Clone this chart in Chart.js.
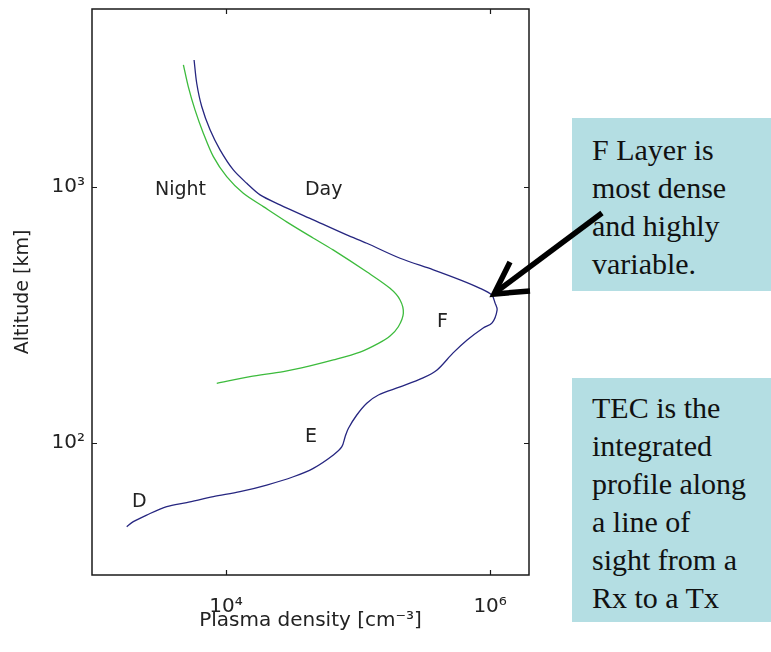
<!DOCTYPE html>
<html><head><meta charset="utf-8">
<script src="https://cdn.jsdelivr.net/npm/chart.js@4"></script>
<style>
html,body{margin:0;padding:0;background:#fff;}
#wrap{position:relative;width:771px;height:652px;overflow:hidden;background:#fff;}
#c{position:absolute;left:0;top:0;}
.note{position:absolute;background:#b4dee3;font-family:"Liberation Serif","Times New Roman",serif;font-size:30px;line-height:38px;color:#111;box-sizing:border-box;padding-left:20px;white-space:nowrap;}
svg{position:absolute;left:0;top:0;}
</style></head><body>
<div id="wrap">
<canvas id="c" width="771" height="652"></canvas>
<div class="note" style="left:572px;top:118px;width:199px;height:173px;padding-top:13px">F Layer is<br>most dense<br>and highly<br>variable.</div>
<div class="note" style="left:572px;top:378px;width:199px;height:244px;padding-top:11px">TEC is the<br>integrated<br>profile along<br>a line of<br>sight from a<br>Rx to a Tx</div>
<svg width="771" height="652">
<line x1="602" y1="213" x2="496" y2="292" stroke="#000" stroke-width="5.5"/>
<polyline points="510,262 494,294 530,291" fill="none" stroke="#000" stroke-width="5.5" stroke-linejoin="miter"/>
</svg>
</div>
<script>
// Day profile (density cm^-3, altitude km)
const dayDensity = [1770,1986,2506,3556,5036,8017,12760,20320,32360,45810,65010,75380,79800,84550,97780,116400,142600,208000,310500,396300,524500,669900,885900,1035000,1130000,1091000,1030000,839500,592500,371500,208000,116400,82000,45810,25640,18110,14360,11360,9006,7568,6545,5998,5729];
const dayAltitude = [47.1,49.3,52.3,56.4,58.5,61.7,64.5,68.5,73.8,79.6,89.8,96.7,105.8,114.1,128.6,143.0,154.0,165.5,179.5,192.8,224.8,252.5,281.3,294.5,331.3,351.7,378.4,401.7,433.5,474.4,526.6,602.6,649.4,743.6,851.6,931,1033,1165,1396,1671,2061,2541,3133];
// Night profile
const nightDensity = [8508,15200,27170,43270,65010,103500,142600,174600,201800,220200,208000,174600,117000,64710,45630,28970,19180,13520,10120,8017,6730,5822,5177,4755];
const nightAltitude = [171.0,181.6,189.9,200.0,210.9,226.5,245.0,261.9,284.5,321.2,361.9,401.7,465,567.6,632,729,837.6,944,1097,1313,1622,2000,2467,2999];
// Axis ticks
const xTicks = [1e4, 1e6];
const xTickLabels = ['10\u2074', '10\u2076'];
const yTicks = [1e2, 1e3];
const yTickLabels = ['10\u00B2', '10\u00B3'];
// Region labels (anchored in data coordinates)
const regionLabels = ['Night','Day','F','E','D'];
const regionDensity = [2897,39630,396300,39630,1941];
const regionAltitude = [931,931,283.9,100.9,56.2];

const toPts = (xs, ys) => xs.map((v, i) => ({x: v, y: ys[i]}));

const framePlugin = {
  id: 'frame',
  afterDatasetsDraw(chart) {
    const {ctx, chartArea: a, scales: {x, y}} = chart;
    ctx.save();
    ctx.strokeStyle = '#1a1a1a';
    ctx.lineWidth = 1.5;
    ctx.strokeRect(a.left, a.top, a.right - a.left, a.bottom - a.top);
    ctx.lineWidth = 1.2;
    ctx.beginPath();
    xTicks.forEach(v => {
      const px = Math.round(x.getPixelForValue(v)) + 0.5;
      ctx.moveTo(px, a.bottom); ctx.lineTo(px, a.bottom - 5);
      ctx.moveTo(px, a.top); ctx.lineTo(px, a.top + 5);
    });
    yTicks.forEach(v => {
      const py = Math.round(y.getPixelForValue(v)) + 0.5;
      ctx.moveTo(a.left, py); ctx.lineTo(a.left + 5, py);
      ctx.moveTo(a.right, py); ctx.lineTo(a.right - 5, py);
    });
    ctx.stroke();
    ctx.fillStyle = '#222';
    ctx.font = '19px "DejaVu Sans"';
    ctx.textAlign = 'left';
    ctx.textBaseline = 'alphabetic';
    regionLabels.forEach((t, i) => {
      ctx.fillText(t, x.getPixelForValue(regionDensity[i]), y.getPixelForValue(regionAltitude[i]));
    });
    ctx.restore();
  }
};

new Chart(document.getElementById('c'), {
  type: 'scatter',
  data: {
    datasets: [
      {label: 'Day', data: toPts(dayDensity, dayAltitude), showLine: true, borderColor: '#262680', borderWidth: 1.3, pointRadius: 0, tension: 0.3, fill: false},
      {label: 'Night', data: toPts(nightDensity, nightAltitude), showLine: true, borderColor: '#3cbb3c', borderWidth: 1.3, pointRadius: 0, tension: 0.3, fill: false}
    ]
  },
  options: {
    responsive: false,
    animation: false,
    devicePixelRatio: 1,
    layout: {padding: {left: 0, top: 9, right: 242, bottom: 0}},
    plugins: {legend: {display: false}, tooltip: {enabled: false}},
    scales: {
      x: {
        type: 'logarithmic', min: 966, max: 1970000,
        afterBuildTicks(s) { s.ticks = xTicks.map(v => ({value: v})); },
        afterFit(s) { s.height = 77; s.paddingLeft = 0; s.paddingRight = 0; },
        grid: {display: false, drawTicks: false},
        border: {display: false},
        ticks: {
          padding: 20, color: '#222', maxRotation: 0, autoSkip: false,
          font: {family: 'DejaVu Sans', size: 20},
          callback: (v) => { const i = xTicks.findIndex(t => Math.abs(t - v) / t < 1e-6); return i >= 0 ? xTickLabels[i] : ''; }
        },
        title: {display: true, text: 'Plasma density [cm\u207B\u00B3]', color: '#222', font: {family: 'DejaVu Sans', size: 20}, padding: {top: 0, bottom: 19}}
      },
      y: {
        type: 'logarithmic', min: 30.5, max: 4955,
        afterBuildTicks(s) { s.ticks = yTicks.map(v => ({value: v})); },
        afterFit(s) { s.width = 92; s.paddingTop = 0; s.paddingBottom = 0; },
        grid: {display: false, drawTicks: false},
        border: {display: false},
        ticks: {
          padding: 7, color: '#222', autoSkip: false,
          font: {family: 'DejaVu Sans', size: 20},
          callback: (v) => { const i = yTicks.findIndex(t => Math.abs(t - v) / t < 1e-6); return i >= 0 ? yTickLabels[i] : ''; }
        },
        title: {display: true, text: 'Altitude [km]', color: '#222', font: {family: 'DejaVu Sans', size: 19}, padding: {top: 12, bottom: 0}}
      }
    }
  },
  plugins: [framePlugin]
});
</script>
</body></html>
